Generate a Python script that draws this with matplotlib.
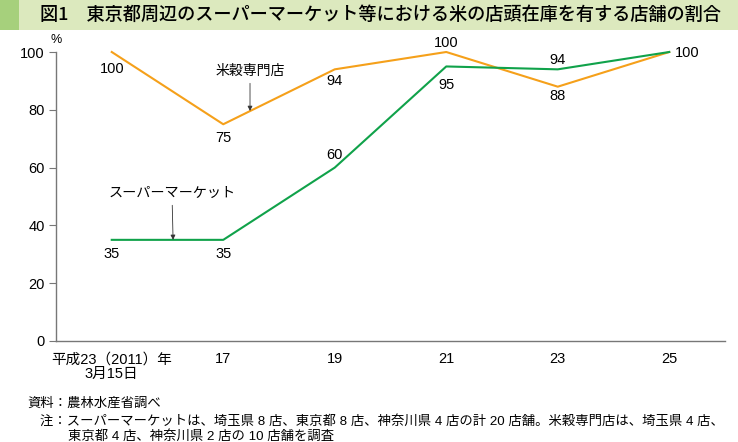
import matplotlib
matplotlib.use("Agg")
import matplotlib.pyplot as plt
from matplotlib.patches import Rectangle

plt.rcParams['font.family'] = ['Liberation Sans', 'Noto Sans CJK JP']

# data
periods = ['平成23（2011）年\n3月15日', '17', '19', '21', '23', '25']
supermarket = [35, 35, 60, 95, 94, 100]
rice_shop = [100, 75, 94, 100, 88, 100]

title = '図1　東京都周辺のスーパーマーケット等における米の店頭在庫を有する店舗の割合'
source = '資料：農林水産省調べ'
note1 = '注：スーパーマーケットは、埼玉県 8 店、東京都 8 店、神奈川県 4 店の計 20 店舗。米穀専門店は、埼玉県 4 店、'
note2 = '東京都 4 店、神奈川県 2 店の 10 店舗を調査'

orange = '#f5a01a'
green = '#10a24a'
gray = '#777777'

fig = plt.figure(figsize=(7.38, 4.42), dpi=100)

# title banner
fig.patches.append(Rectangle((0, 1 - 30 / 442), 1, 30 / 442, transform=fig.transFigure,
                             facecolor='#dce9be', edgecolor='none', zorder=0))
fig.patches.append(Rectangle((0, 1 - 30 / 442), 19 / 738, 30 / 442, transform=fig.transFigure,
                             facecolor='#a6d07c', edgecolor='none', zorder=1))
fig.text(40 / 738, 1 - 15 / 442, title, fontsize=13.1, va='center', ha='left',
         family='Noto Sans CJK JP', fontweight='medium')

ax = fig.add_axes([56 / 738, 1 - 341 / 442, (725 - 56) / 738, (341 - 52) / 442])
x = list(range(len(periods)))
ax.plot(x, rice_shop, color=orange, lw=1.5, clip_on=False, zorder=3)
ax.plot(x, supermarket, color=green, lw=1.5, clip_on=False, zorder=3)

ax.set_xlim(-0.5, 5.5)
ax.set_ylim(0, 100)
ax.set_yticks([0, 20, 40, 60, 80, 100])
ax.set_xticks(x)
ax.set_xticklabels(periods, fontsize=10.5, linespacing=1.1)
ax.tick_params(axis='x', length=0, pad=8)
ax.tick_params(axis='y', length=5, width=0.8, color=gray, labelsize=10.5, pad=3)
for s in ['top', 'right']:
    ax.spines[s].set_visible(False)
for s in ['left', 'bottom']:
    ax.spines[s].set_color(gray)
    ax.spines[s].set_linewidth(1.0)
ax.text(-0.5, 102, '%', fontsize=9, ha='center', va='bottom')

# value labels
rice_off = [-6, -4.6, -4.2, 3, -3.3]
super_off = [-4.8, -4.8, 4.5, -6.5, 3.4]
for i in x[:-1]:
    ax.text(i, rice_shop[i] + rice_off[i], str(rice_shop[i]), fontsize=10.5,
            ha='center', va='center')
    ax.text(i, supermarket[i] + super_off[i], str(supermarket[i]), fontsize=10.5,
            ha='center', va='center')
ax.text(x[-1] + 0.05, rice_shop[-1] - 0.5, str(rice_shop[-1]), fontsize=10.5,
        ha='left', va='center')

arrow = dict(arrowstyle='-|>', color='#333333', lw=0.6, mutation_scale=7, shrinkA=2, shrinkB=0)
ax.annotate('米穀専門店', xy=(1.24, 79.6), xytext=(1.24, 93.5), fontsize=10,
            ha='center', va='center', arrowprops=arrow)
ax.annotate('スーパーマーケット', xy=(0.55, 35), xytext=(0.54, 51.3), fontsize=10.2,
            ha='center', va='center', arrowprops=arrow)

fig.text(27 / 738, 1 - 404 / 442, source, fontsize=9.6, va='center', ha='left')
fig.text(40 / 738, 1 - 421 / 442, note1, fontsize=9.6, va='center', ha='left')
fig.text(68 / 738, 1 - 436 / 442, note2, fontsize=9.6, va='center', ha='left')

fig.savefig('out.png', dpi=100)
